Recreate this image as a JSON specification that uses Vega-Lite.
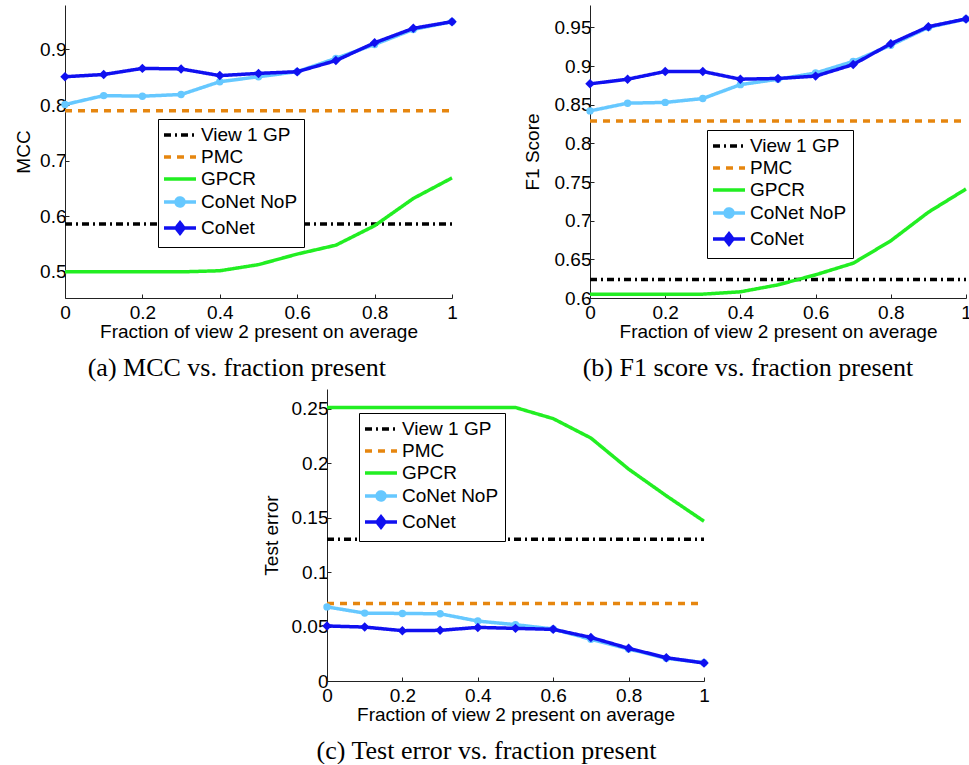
{
  "$schema": "https://vega.github.io/schema/vega-lite/v6.json",
  "padding": {"left": 14, "top": 5, "right": 0, "bottom": 0},
  "background": "white",
  "datasets": {
    "mcc": [
      {"series": "View 1 GP", "x": 0, "y": 0.586}, {"series": "View 1 GP", "x": 1, "y": 0.586},
      {"series": "PMC", "x": 0, "y": 0.79}, {"series": "PMC", "x": 1, "y": 0.79},
      {"series": "GPCR", "x": 0, "y": 0.5}, {"series": "GPCR", "x": 0.1, "y": 0.5}, {"series": "GPCR", "x": 0.2, "y": 0.5}, {"series": "GPCR", "x": 0.3, "y": 0.5}, {"series": "GPCR", "x": 0.4, "y": 0.502}, {"series": "GPCR", "x": 0.5, "y": 0.513}, {"series": "GPCR", "x": 0.6, "y": 0.532}, {"series": "GPCR", "x": 0.7, "y": 0.548}, {"series": "GPCR", "x": 0.8, "y": 0.583}, {"series": "GPCR", "x": 0.9, "y": 0.632}, {"series": "GPCR", "x": 1, "y": 0.669},
      {"series": "CoNet NoP", "x": 0, "y": 0.801}, {"series": "CoNet NoP", "x": 0.1, "y": 0.817}, {"series": "CoNet NoP", "x": 0.2, "y": 0.816}, {"series": "CoNet NoP", "x": 0.3, "y": 0.819}, {"series": "CoNet NoP", "x": 0.4, "y": 0.842}, {"series": "CoNet NoP", "x": 0.5, "y": 0.851}, {"series": "CoNet NoP", "x": 0.6, "y": 0.86}, {"series": "CoNet NoP", "x": 0.7, "y": 0.884}, {"series": "CoNet NoP", "x": 0.8, "y": 0.909}, {"series": "CoNet NoP", "x": 0.9, "y": 0.936}, {"series": "CoNet NoP", "x": 1, "y": 0.95},
      {"series": "CoNet", "x": 0, "y": 0.851}, {"series": "CoNet", "x": 0.1, "y": 0.855}, {"series": "CoNet", "x": 0.2, "y": 0.866}, {"series": "CoNet", "x": 0.3, "y": 0.865}, {"series": "CoNet", "x": 0.4, "y": 0.853}, {"series": "CoNet", "x": 0.5, "y": 0.857}, {"series": "CoNet", "x": 0.6, "y": 0.86}, {"series": "CoNet", "x": 0.7, "y": 0.88}, {"series": "CoNet", "x": 0.8, "y": 0.912}, {"series": "CoNet", "x": 0.9, "y": 0.938}, {"series": "CoNet", "x": 1, "y": 0.95}
    ],
    "f1": [
      {"series": "View 1 GP", "x": 0, "y": 0.624}, {"series": "View 1 GP", "x": 1, "y": 0.624},
      {"series": "PMC", "x": 0, "y": 0.829}, {"series": "PMC", "x": 1, "y": 0.829},
      {"series": "GPCR", "x": 0, "y": 0.605}, {"series": "GPCR", "x": 0.1, "y": 0.605}, {"series": "GPCR", "x": 0.2, "y": 0.605}, {"series": "GPCR", "x": 0.3, "y": 0.605}, {"series": "GPCR", "x": 0.4, "y": 0.608}, {"series": "GPCR", "x": 0.5, "y": 0.617}, {"series": "GPCR", "x": 0.6, "y": 0.63}, {"series": "GPCR", "x": 0.7, "y": 0.645}, {"series": "GPCR", "x": 0.8, "y": 0.674}, {"series": "GPCR", "x": 0.9, "y": 0.711}, {"series": "GPCR", "x": 1, "y": 0.741},
      {"series": "CoNet NoP", "x": 0, "y": 0.842}, {"series": "CoNet NoP", "x": 0.1, "y": 0.852}, {"series": "CoNet NoP", "x": 0.2, "y": 0.853}, {"series": "CoNet NoP", "x": 0.3, "y": 0.858}, {"series": "CoNet NoP", "x": 0.4, "y": 0.876}, {"series": "CoNet NoP", "x": 0.5, "y": 0.883}, {"series": "CoNet NoP", "x": 0.6, "y": 0.891}, {"series": "CoNet NoP", "x": 0.7, "y": 0.906}, {"series": "CoNet NoP", "x": 0.8, "y": 0.927}, {"series": "CoNet NoP", "x": 0.9, "y": 0.95}, {"series": "CoNet NoP", "x": 1, "y": 0.961},
      {"series": "CoNet", "x": 0, "y": 0.877}, {"series": "CoNet", "x": 0.1, "y": 0.883}, {"series": "CoNet", "x": 0.2, "y": 0.893}, {"series": "CoNet", "x": 0.3, "y": 0.893}, {"series": "CoNet", "x": 0.4, "y": 0.883}, {"series": "CoNet", "x": 0.5, "y": 0.884}, {"series": "CoNet", "x": 0.6, "y": 0.887}, {"series": "CoNet", "x": 0.7, "y": 0.902}, {"series": "CoNet", "x": 0.8, "y": 0.929}, {"series": "CoNet", "x": 0.9, "y": 0.951}, {"series": "CoNet", "x": 1, "y": 0.961}
    ],
    "err": [
      {"series": "View 1 GP", "x": 0, "y": 0.13}, {"series": "View 1 GP", "x": 1, "y": 0.13},
      {"series": "PMC", "x": 0, "y": 0.0712}, {"series": "PMC", "x": 1, "y": 0.0712},
      {"series": "GPCR", "x": 0, "y": 0.251}, {"series": "GPCR", "x": 0.1, "y": 0.251}, {"series": "GPCR", "x": 0.2, "y": 0.251}, {"series": "GPCR", "x": 0.3, "y": 0.251}, {"series": "GPCR", "x": 0.4, "y": 0.251}, {"series": "GPCR", "x": 0.5, "y": 0.251}, {"series": "GPCR", "x": 0.6, "y": 0.2408}, {"series": "GPCR", "x": 0.7, "y": 0.223}, {"series": "GPCR", "x": 0.8, "y": 0.1945}, {"series": "GPCR", "x": 0.9, "y": 0.17}, {"series": "GPCR", "x": 1, "y": 0.1466},
      {"series": "CoNet NoP", "x": 0, "y": 0.068}, {"series": "CoNet NoP", "x": 0.1, "y": 0.0623}, {"series": "CoNet NoP", "x": 0.2, "y": 0.062}, {"series": "CoNet NoP", "x": 0.3, "y": 0.0617}, {"series": "CoNet NoP", "x": 0.4, "y": 0.055}, {"series": "CoNet NoP", "x": 0.5, "y": 0.0517}, {"series": "CoNet NoP", "x": 0.6, "y": 0.0477}, {"series": "CoNet NoP", "x": 0.7, "y": 0.0383}, {"series": "CoNet NoP", "x": 0.8, "y": 0.0294}, {"series": "CoNet NoP", "x": 0.9, "y": 0.0208}, {"series": "CoNet NoP", "x": 1, "y": 0.0168},
      {"series": "CoNet", "x": 0, "y": 0.0505}, {"series": "CoNet", "x": 0.1, "y": 0.0495}, {"series": "CoNet", "x": 0.2, "y": 0.0462}, {"series": "CoNet", "x": 0.3, "y": 0.0465}, {"series": "CoNet", "x": 0.4, "y": 0.0492}, {"series": "CoNet", "x": 0.5, "y": 0.0483}, {"series": "CoNet", "x": 0.6, "y": 0.0474}, {"series": "CoNet", "x": 0.7, "y": 0.04}, {"series": "CoNet", "x": 0.8, "y": 0.03}, {"series": "CoNet", "x": 0.9, "y": 0.0214}, {"series": "CoNet", "x": 1, "y": 0.0165}
    ]
  },
  "vconcat": [
    {
      "hconcat": [
        {
          "width": 387, "height": 293,
          "title": {"text": "(a) MCC vs. fraction present"},
          "data": {"name": "mcc"},
          "encoding": {
            "x": {"field": "x", "type": "quantitative", "scale": {"domain": [0, 1], "nice": false, "zero": false}, "axis": {"values": [0, 0.2, 0.4, 0.6, 0.8, 1], "format": "~g", "title": "Fraction of view 2 present on average"}},
            "y": {"field": "y", "type": "quantitative", "scale": {"domain": [0.453, 0.98], "nice": false, "zero": false}, "axis": {"values": [0.5, 0.6, 0.7, 0.8, 0.9], "format": "~g", "title": "MCC"}}
          },
          "layer": [
            {"transform": [{"filter": {"field": "series", "oneOf": ["View 1 GP", "PMC", "GPCR", "CoNet NoP"]}}], "mark": {"type": "line", "strokeWidth": 3.5},
             "encoding": {
               "color": {"field": "series", "type": "nominal", "scale": {"domain": ["View 1 GP", "PMC", "GPCR", "CoNet NoP", "CoNet"], "range": ["#000000", "#e6860f", "#22ee22", "#66c8ff", "#1010f0"]}, "legend": {"legendX": 93, "legendY": 114, "encode": {"symbols": {"update": {"shape": {"signal": "datum.value === 'CoNet' ? 'M-1.25,0H2.75M0.75,-0.65L1.25,0L0.75,0.65L0.25,0Z' : datum.value === 'CoNet NoP' ? 'M-1.25,0H2.75M1.25,0A0.5,0.5,0,1,1,0.25,0A0.5,0.5,0,1,1,1.25,0Z' : 'M-1.25,0H2.75'"}, "fill": {"signal": "datum.value === 'CoNet' ? '#1010f0' : datum.value === 'CoNet NoP' ? '#66c8ff' : 'transparent'"}}}}}},
               "strokeDash": {"field": "series", "type": "nominal", "scale": {"domain": ["View 1 GP", "PMC", "GPCR", "CoNet NoP", "CoNet"], "range": [[7, 4, 2, 4], [7, 6], [1, 0], [1, 0], [1, 0]]}, "legend": {"legendX": 93, "legendY": 114, "encode": {"symbols": {"update": {"shape": {"signal": "datum.value === 'CoNet' ? 'M-1.25,0H2.75M0.75,-0.65L1.25,0L0.75,0.65L0.25,0Z' : datum.value === 'CoNet NoP' ? 'M-1.25,0H2.75M1.25,0A0.5,0.5,0,1,1,0.25,0A0.5,0.5,0,1,1,1.25,0Z' : 'M-1.25,0H2.75'"}, "fill": {"signal": "datum.value === 'CoNet' ? '#1010f0' : datum.value === 'CoNet NoP' ? '#66c8ff' : 'transparent'"}}}}}}
             }},
            {"transform": [{"filter": "datum.series === 'CoNet NoP'"}], "mark": {"type": "point", "filled": true, "shape": "circle", "size": 55, "color": "#66c8ff", "opacity": 1}},
            {"transform": [{"filter": "datum.series === 'CoNet'"}], "mark": {"type": "line", "strokeWidth": 3.5},
             "encoding": {
               "color": {"field": "series", "type": "nominal", "scale": {"domain": ["View 1 GP", "PMC", "GPCR", "CoNet NoP", "CoNet"], "range": ["#000000", "#e6860f", "#22ee22", "#66c8ff", "#1010f0"]}, "legend": {"legendX": 93, "legendY": 114, "encode": {"symbols": {"update": {"shape": {"signal": "datum.value === 'CoNet' ? 'M-1.25,0H2.75M0.75,-0.65L1.25,0L0.75,0.65L0.25,0Z' : datum.value === 'CoNet NoP' ? 'M-1.25,0H2.75M1.25,0A0.5,0.5,0,1,1,0.25,0A0.5,0.5,0,1,1,1.25,0Z' : 'M-1.25,0H2.75'"}, "fill": {"signal": "datum.value === 'CoNet' ? '#1010f0' : datum.value === 'CoNet NoP' ? '#66c8ff' : 'transparent'"}}}}}},
               "strokeDash": {"field": "series", "type": "nominal", "scale": {"domain": ["View 1 GP", "PMC", "GPCR", "CoNet NoP", "CoNet"], "range": [[7, 4, 2, 4], [7, 6], [1, 0], [1, 0], [1, 0]]}, "legend": {"legendX": 93, "legendY": 114, "encode": {"symbols": {"update": {"shape": {"signal": "datum.value === 'CoNet' ? 'M-1.25,0H2.75M0.75,-0.65L1.25,0L0.75,0.65L0.25,0Z' : datum.value === 'CoNet NoP' ? 'M-1.25,0H2.75M1.25,0A0.5,0.5,0,1,1,0.25,0A0.5,0.5,0,1,1,1.25,0Z' : 'M-1.25,0H2.75'"}, "fill": {"signal": "datum.value === 'CoNet' ? '#1010f0' : datum.value === 'CoNet NoP' ? '#66c8ff' : 'transparent'"}}}}}}
             }},
            {"transform": [{"filter": "datum.series === 'CoNet'"}], "mark": {"type": "point", "filled": true, "shape": "diamond", "size": 90, "color": "#1010f0", "opacity": 1}}
          ]
        },
        {
          "width": 376, "height": 293,
          "title": {"text": "(b) F1 score vs. fraction present"},
          "data": {"name": "f1"},
          "encoding": {
            "x": {"field": "x", "type": "quantitative", "scale": {"domain": [0, 1], "nice": false, "zero": false}, "axis": {"values": [0, 0.2, 0.4, 0.6, 0.8, 1], "format": "~g", "title": "Fraction of view 2 present on average"}},
            "y": {"field": "y", "type": "quantitative", "scale": {"domain": [0.6, 0.979], "nice": false, "zero": false}, "axis": {"values": [0.6, 0.65, 0.7, 0.75, 0.8, 0.85, 0.9, 0.95], "format": "~g", "title": "F1 Score", "titlePadding": 12}}
          },
          "layer": [
            {"transform": [{"filter": {"field": "series", "oneOf": ["View 1 GP", "PMC", "GPCR", "CoNet NoP"]}}], "mark": {"type": "line", "strokeWidth": 3.5},
             "encoding": {
               "color": {"field": "series", "type": "nominal", "scale": {"domain": ["View 1 GP", "PMC", "GPCR", "CoNet NoP", "CoNet"], "range": ["#000000", "#e6860f", "#22ee22", "#66c8ff", "#1010f0"]}, "legend": {"legendX": 117, "legendY": 125, "encode": {"symbols": {"update": {"shape": {"signal": "datum.value === 'CoNet' ? 'M-1.25,0H2.75M0.75,-0.65L1.25,0L0.75,0.65L0.25,0Z' : datum.value === 'CoNet NoP' ? 'M-1.25,0H2.75M1.25,0A0.5,0.5,0,1,1,0.25,0A0.5,0.5,0,1,1,1.25,0Z' : 'M-1.25,0H2.75'"}, "fill": {"signal": "datum.value === 'CoNet' ? '#1010f0' : datum.value === 'CoNet NoP' ? '#66c8ff' : 'transparent'"}}}}}},
               "strokeDash": {"field": "series", "type": "nominal", "scale": {"domain": ["View 1 GP", "PMC", "GPCR", "CoNet NoP", "CoNet"], "range": [[7, 4, 2, 4], [7, 6], [1, 0], [1, 0], [1, 0]]}, "legend": {"legendX": 117, "legendY": 125, "encode": {"symbols": {"update": {"shape": {"signal": "datum.value === 'CoNet' ? 'M-1.25,0H2.75M0.75,-0.65L1.25,0L0.75,0.65L0.25,0Z' : datum.value === 'CoNet NoP' ? 'M-1.25,0H2.75M1.25,0A0.5,0.5,0,1,1,0.25,0A0.5,0.5,0,1,1,1.25,0Z' : 'M-1.25,0H2.75'"}, "fill": {"signal": "datum.value === 'CoNet' ? '#1010f0' : datum.value === 'CoNet NoP' ? '#66c8ff' : 'transparent'"}}}}}}
             }},
            {"transform": [{"filter": "datum.series === 'CoNet NoP'"}], "mark": {"type": "point", "filled": true, "shape": "circle", "size": 55, "color": "#66c8ff", "opacity": 1}},
            {"transform": [{"filter": "datum.series === 'CoNet'"}], "mark": {"type": "line", "strokeWidth": 3.5},
             "encoding": {
               "color": {"field": "series", "type": "nominal", "scale": {"domain": ["View 1 GP", "PMC", "GPCR", "CoNet NoP", "CoNet"], "range": ["#000000", "#e6860f", "#22ee22", "#66c8ff", "#1010f0"]}, "legend": {"legendX": 117, "legendY": 125, "encode": {"symbols": {"update": {"shape": {"signal": "datum.value === 'CoNet' ? 'M-1.25,0H2.75M0.75,-0.65L1.25,0L0.75,0.65L0.25,0Z' : datum.value === 'CoNet NoP' ? 'M-1.25,0H2.75M1.25,0A0.5,0.5,0,1,1,0.25,0A0.5,0.5,0,1,1,1.25,0Z' : 'M-1.25,0H2.75'"}, "fill": {"signal": "datum.value === 'CoNet' ? '#1010f0' : datum.value === 'CoNet NoP' ? '#66c8ff' : 'transparent'"}}}}}},
               "strokeDash": {"field": "series", "type": "nominal", "scale": {"domain": ["View 1 GP", "PMC", "GPCR", "CoNet NoP", "CoNet"], "range": [[7, 4, 2, 4], [7, 6], [1, 0], [1, 0], [1, 0]]}, "legend": {"legendX": 117, "legendY": 125, "encode": {"symbols": {"update": {"shape": {"signal": "datum.value === 'CoNet' ? 'M-1.25,0H2.75M0.75,-0.65L1.25,0L0.75,0.65L0.25,0Z' : datum.value === 'CoNet NoP' ? 'M-1.25,0H2.75M1.25,0A0.5,0.5,0,1,1,0.25,0A0.5,0.5,0,1,1,1.25,0Z' : 'M-1.25,0H2.75'"}, "fill": {"signal": "datum.value === 'CoNet' ? '#1010f0' : datum.value === 'CoNet NoP' ? '#66c8ff' : 'transparent'"}}}}}}
             }},
            {"transform": [{"filter": "datum.series === 'CoNet'"}], "mark": {"type": "point", "filled": true, "shape": "diamond", "size": 90, "color": "#1010f0", "opacity": 1}}
          ]
        }
      ],
      "spacing": 64,
      "resolve": {"scale": {"color": "independent", "strokeDash": "independent"}, "legend": {"color": "independent", "strokeDash": "independent"}}
    },
    {
      "width": 377, "height": 292,
      "title": {"text": "(c) Test error vs. fraction present"},
      "data": {"name": "err"},
      "encoding": {
        "x": {"field": "x", "type": "quantitative", "scale": {"domain": [0, 1], "nice": false, "zero": false}, "axis": {"values": [0, 0.2, 0.4, 0.6, 0.8, 1], "format": "~g", "title": "Fraction of view 2 present on average"}},
        "y": {"field": "y", "type": "quantitative", "scale": {"domain": [0, 0.268], "nice": false, "zero": false}, "axis": {"values": [0, 0.05, 0.1, 0.15, 0.2, 0.25], "format": "~g", "title": "Test error", "titlePadding": 10}}
      },
      "layer": [
        {"transform": [{"filter": {"field": "series", "oneOf": ["View 1 GP", "PMC", "GPCR", "CoNet NoP"]}}], "mark": {"type": "line", "strokeWidth": 3.5},
         "encoding": {
           "color": {"field": "series", "type": "nominal", "scale": {"domain": ["View 1 GP", "PMC", "GPCR", "CoNet NoP", "CoNet"], "range": ["#000000", "#e6860f", "#22ee22", "#66c8ff", "#1010f0"]}, "legend": {"legendX": 32, "legendY": 24, "encode": {"symbols": {"update": {"shape": {"signal": "datum.value === 'CoNet' ? 'M-1.25,0H2.75M0.75,-0.65L1.25,0L0.75,0.65L0.25,0Z' : datum.value === 'CoNet NoP' ? 'M-1.25,0H2.75M1.25,0A0.5,0.5,0,1,1,0.25,0A0.5,0.5,0,1,1,1.25,0Z' : 'M-1.25,0H2.75'"}, "fill": {"signal": "datum.value === 'CoNet' ? '#1010f0' : datum.value === 'CoNet NoP' ? '#66c8ff' : 'transparent'"}}}}}},
           "strokeDash": {"field": "series", "type": "nominal", "scale": {"domain": ["View 1 GP", "PMC", "GPCR", "CoNet NoP", "CoNet"], "range": [[7, 4, 2, 4], [7, 6], [1, 0], [1, 0], [1, 0]]}, "legend": {"legendX": 32, "legendY": 24, "encode": {"symbols": {"update": {"shape": {"signal": "datum.value === 'CoNet' ? 'M-1.25,0H2.75M0.75,-0.65L1.25,0L0.75,0.65L0.25,0Z' : datum.value === 'CoNet NoP' ? 'M-1.25,0H2.75M1.25,0A0.5,0.5,0,1,1,0.25,0A0.5,0.5,0,1,1,1.25,0Z' : 'M-1.25,0H2.75'"}, "fill": {"signal": "datum.value === 'CoNet' ? '#1010f0' : datum.value === 'CoNet NoP' ? '#66c8ff' : 'transparent'"}}}}}}
         }},
        {"transform": [{"filter": "datum.series === 'CoNet NoP'"}], "mark": {"type": "point", "filled": true, "shape": "circle", "size": 55, "color": "#66c8ff", "opacity": 1}},
        {"transform": [{"filter": "datum.series === 'CoNet'"}], "mark": {"type": "line", "strokeWidth": 3.5},
         "encoding": {
           "color": {"field": "series", "type": "nominal", "scale": {"domain": ["View 1 GP", "PMC", "GPCR", "CoNet NoP", "CoNet"], "range": ["#000000", "#e6860f", "#22ee22", "#66c8ff", "#1010f0"]}, "legend": {"legendX": 32, "legendY": 24, "encode": {"symbols": {"update": {"shape": {"signal": "datum.value === 'CoNet' ? 'M-1.25,0H2.75M0.75,-0.65L1.25,0L0.75,0.65L0.25,0Z' : datum.value === 'CoNet NoP' ? 'M-1.25,0H2.75M1.25,0A0.5,0.5,0,1,1,0.25,0A0.5,0.5,0,1,1,1.25,0Z' : 'M-1.25,0H2.75'"}, "fill": {"signal": "datum.value === 'CoNet' ? '#1010f0' : datum.value === 'CoNet NoP' ? '#66c8ff' : 'transparent'"}}}}}},
           "strokeDash": {"field": "series", "type": "nominal", "scale": {"domain": ["View 1 GP", "PMC", "GPCR", "CoNet NoP", "CoNet"], "range": [[7, 4, 2, 4], [7, 6], [1, 0], [1, 0], [1, 0]]}, "legend": {"legendX": 32, "legendY": 24, "encode": {"symbols": {"update": {"shape": {"signal": "datum.value === 'CoNet' ? 'M-1.25,0H2.75M0.75,-0.65L1.25,0L0.75,0.65L0.25,0Z' : datum.value === 'CoNet NoP' ? 'M-1.25,0H2.75M1.25,0A0.5,0.5,0,1,1,0.25,0A0.5,0.5,0,1,1,1.25,0Z' : 'M-1.25,0H2.75'"}, "fill": {"signal": "datum.value === 'CoNet' ? '#1010f0' : datum.value === 'CoNet NoP' ? '#66c8ff' : 'transparent'"}}}}}}
         }},
        {"transform": [{"filter": "datum.series === 'CoNet'"}], "mark": {"type": "point", "filled": true, "shape": "diamond", "size": 90, "color": "#1010f0", "opacity": 1}}
      ]
    }
  ],
  "spacing": 8,
  "center": true,
  "resolve": {"scale": {"color": "independent", "strokeDash": "independent", "x": "independent", "y": "independent"}, "legend": {"color": "independent", "strokeDash": "independent"}},
  "config": {
    "view": {"stroke": null},
    "font": "Liberation Sans",
    "axis": {"grid": false, "ticks": true, "tickSize": -4, "tickColor": "#222222", "domainColor": "#222222", "domainWidth": 1, "labelColor": "black", "titleColor": "black", "labelFont": "Liberation Sans", "titleFont": "Liberation Sans", "labelFontSize": 19, "titleFontSize": 19, "titleFontWeight": "normal", "labelOverlap": false},
    "axisX": {"labelFlush": false, "labelPadding": 9, "titlePadding": 0},
    "axisY": {"labelPadding": 3, "titlePadding": 6},
    "legend": {"orient": "none", "title": null, "padding": 6, "strokeColor": "black", "fillColor": "white", "cornerRadius": 0, "labelFont": "Liberation Sans", "labelFontSize": 19, "labelColor": "black", "symbolSize": 256, "symbolStrokeWidth": 3.5, "rowPadding": 2, "labelOffset": 17, "symbolOpacity": 1, "labelLimit": 300},
    "title": {"orient": "bottom", "font": "Liberation Serif", "fontSize": 26, "fontWeight": "normal", "color": "black", "offset": 14, "anchor": "middle", "frame": "bounds"}
  }
}
